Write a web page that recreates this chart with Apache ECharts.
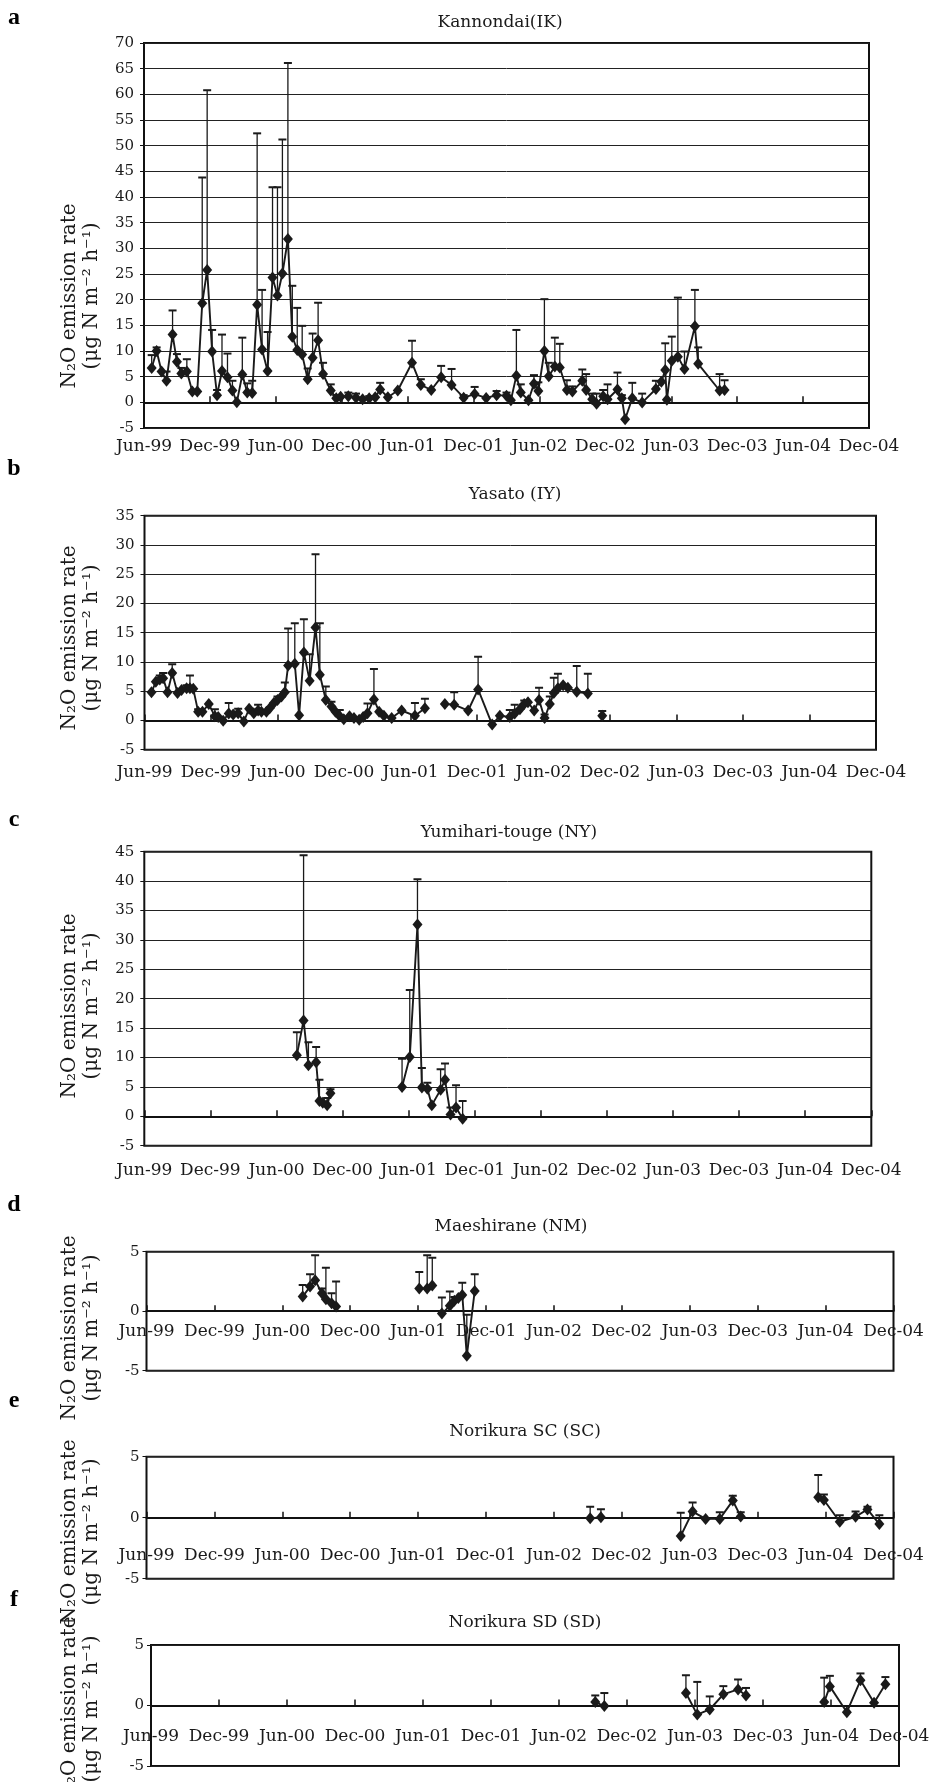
<!DOCTYPE html>
<html><head><meta charset="utf-8">
<script src="https://cdn.jsdelivr.net/npm/echarts@6/dist/echarts.min.js"></script>
<style>html,body{margin:0;padding:0;background:#fff}#c{width:933px;height:1782px}</style>
</head><body><div id="c"></div>
<script>
const FONT = '"DejaVu Serif", serif';
const INK = '#1a1a1a';
const tickLabels = ['Jun-99','Dec-99','Jun-00','Dec-00','Jun-01','Dec-01','Jun-02','Dec-02','Jun-03','Dec-03','Jun-04','Dec-04'];

// sampling time in months after 1 Jun 1999; flux = mean N2O emission; upper = mean + SD (error-bar top)
const ikMonths = [0.7,1.15,1.6,2.05,2.6,3.0,3.4,3.9,4.4,4.85, 5.3,5.75,6.2,6.65,7.1,7.6,8.05,8.45,8.95,9.4,
  9.85,10.3,10.75,11.25,11.7,12.15,12.6,13.1,13.5,13.95, 14.4,14.9,15.35,15.85,16.3,17.0,17.5,17.9,18.6,19.3,
  19.9,20.5,21.05,21.5,22.2,23.1,24.4,25.2,26.15,27.05, 28.0,29.1,30.1,31.15,32.1,33.0,33.4,33.9,34.3,35.0,
  35.5,35.9,36.45,36.85,37.4,37.85,38.5,39.0,39.9,40.25, 40.8,41.2,41.8,42.2,43.1,43.5,43.8,44.45,45.35,46.6,
  47.1,47.45,47.6,48.05,48.6,49.2,50.15,50.45,52.4,52.85];
const ikFlux = [6.7,10.0,6.0,4.2,13.2,7.9,5.6,6.0,2.1,2.1, 19.3,25.8,9.9,1.4,6.1,4.9,2.3,0.0,5.4,1.9,
  1.8,19.0,10.3,6.1,24.3,20.8,25.1,31.8,12.8,10.2, 9.3,4.5,8.7,12.1,5.5,2.3,0.8,1.1,1.2,0.9,
  0.6,0.8,1.0,2.5,1.0,2.3,7.7,3.4,2.4,4.9, 3.4,0.9,1.6,0.85,1.4,1.3,0.4,5.2,1.9,0.4,
  3.6,2.2,10.0,5.1,7.0,6.8,2.4,2.1,4.2,2.4, 0.6,-0.3,1.2,0.6,2.5,0.8,-3.3,0.8,-0.05,2.6,
  4.0,6.3,0.5,8.1,8.9,6.5,14.8,7.5,2.3,2.4];
const ikUpper = [9.2,10.7,null,6.0,17.9,9.4,6.7,8.4,null,null, 43.8,60.8,14.1,2.4,13.2,9.5,4.2,null,12.6,3.7,
  4.2,52.4,21.9,13.7,41.9,41.9,51.2,66.1,22.7,18.4, 14.9,6.6,13.4,19.4,7.7,3.5,1.4,null,1.9,1.7,
  null,1.2,null,3.8,null,null,12.0,4.5,null,7.1, 6.5,1.4,3.0,null,2.2,1.9,null,14.1,3.5,null,
  5.3,3.9,20.1,7.7,12.6,11.4,4.3,3.1,6.4,5.5, 1.7,1.7,2.4,3.5,5.8,1.4,null,3.8,1.7,4.2,
  null,11.5,null,12.8,20.4,9.9,21.9,10.7,5.5,4.3];
const ikBreaks = [];

const iyMonths = [0.63,1.02,1.38,1.68,2.08,2.5,2.98,3.34,3.8,4.1, 4.4,4.84,5.23,5.8,6.35,6.65,7.1,7.6,8.0,8.45,
  8.96,9.44,9.86,10.25,10.55,11.0,11.3,11.67,12.0,12.36, 12.66,12.96,13.56,13.95,14.38,14.9,15.43,15.82,16.36,16.87,
  17.23,17.62,17.98,18.5,18.9,19.37,19.73,20.12,20.7,21.17, 21.6,22.3,23.2,24.4,25.3,27.1,27.94,29.2,30.1,31.37,
  32.06,32.96,33.4,33.87,34.26,34.6,35.16,35.6,36.1,36.57, 36.93,37.3,37.77,38.2,39.0,40.0,41.3];
const iyFlux = [4.8,6.6,7.0,7.2,4.8,8.1,4.7,5.2,5.5,5.5, 5.4,1.5,1.5,2.8,0.7,0.6,-0.05,1.2,1.0,1.25,
  -0.2,2.0,1.25,1.7,1.5,1.5,2.1,3.0,3.5,4.1, 4.8,9.4,9.7,0.9,11.6,6.8,15.9,7.8,3.5,2.4,
  1.5,0.7,0.2,0.7,0.4,0.1,0.6,1.25,3.6,1.5, 0.8,0.4,1.7,0.8,2.1,2.8,2.7,1.7,5.3,-0.7,
  0.8,0.6,1.2,1.9,2.8,3.1,1.7,3.5,0.4,2.8, 4.7,5.5,6.0,5.6,4.9,4.6,0.8];
const iyUpper = [null,null,7.7,8.1,null,9.6,null,null,6.0,7.7, null,1.9,null,null,1.9,null,null,3.0,null,2.0,
  null,null,null,2.7,null,null,null,null,4.1,null, 6.5,15.7,16.6,null,17.3,11.3,28.4,16.6,5.8,3.2,
  null,1.8,null,null,null,null,null,2.9,8.8,null, null,null,null,3.0,3.7,null,4.8,null,10.9,null,
  null,1.8,2.7,null,3.4,null,null,5.6,1.0,4.1, 7.3,8.0,null,null,9.3,8.0,1.6];
const iyBreaks = [54, 75];

const nyMonths = [13.85,14.46,14.9,15.6,15.9,16.2,16.6,16.9, 23.4,24.1,24.8,25.2,25.7,26.1,26.9,27.3,27.8,28.3,28.9];
const nyFlux = [10.4,16.3,8.7,9.2,2.6,2.3,1.9,3.9, 5.0,10.1,32.6,4.9,4.7,1.9,4.5,6.2,0.3,1.5,-0.4];
const nyUpper = [14.3,44.4,12.6,11.8,6.2,null,3.1,4.6, 9.8,21.5,40.3,8.2,5.7,null,8.0,9.0,1.5,5.3,2.6];
const nyBreaks = [7];

const nmMonths = [13.8,14.45,14.9,15.5,15.85,16.35,16.75, 24.1,24.8,25.25, 26.1,26.8,27.2,27.55,27.9,28.3,29.0];
const nmFlux = [1.23,2.07,2.6,1.5,1.0,0.67,0.4, 1.9,1.9,2.15, -0.2,0.45,0.87,1.1,1.37,-3.75,1.7];
const nmUpper = [2.2,3.1,4.7,1.9,3.65,1.5,2.5, 3.3,4.7,4.5, 1.15,1.65,1.2,null,2.4,-0.3,3.1];
const nmBreaks = [6, 9];

const scMonths = [39.2,40.15, 47.2,48.25,49.4,50.65,51.8,52.5, 59.35,59.85,61.25,62.65,63.7,64.75];
const scFlux = [-0.05,0.03, -1.5,0.5,-0.1,-0.1,1.4,0.1, 1.67,1.45,-0.33,0.08,0.68,-0.52];
const scUpper = [0.9,0.7, 0.4,1.25,null,0.45,1.8,0.45, 3.5,1.9,0.2,0.5,0.9,0.2];
const scBreaks = [1, 7];

const sdMonths = [39.2,40.0, 47.2,48.2,49.3,50.5,51.8,52.5, 59.4,59.9,61.4,62.6,63.8,64.8];
const sdFlux = [0.28,-0.05, 1.03,-0.75,-0.33,0.92,1.33,0.83, 0.28,1.58,-0.55,2.08,0.22,1.75];
const sdUpper = [0.83,1.03, 2.5,1.95,0.75,1.6,2.15,1.45, 2.3,2.45,null,2.65,null,2.35];
const sdBreaks = [1, 7];

const panels = [
  {letter:'a', title:'Kannondai(IK)', months:ikMonths, flux:ikFlux, upper:ikUpper, breaks:ikBreaks, yMin:-5, yMax:70,
   box:{left:144, top:43, width:725, height:385}, labelsOnZero:false, labelMargin:10, yLabelMargin:10,
   titleX:500, titleY:23, letterY:18, nameY:296},
  {letter:'b', title:'Yasato (IY)', months:iyMonths, flux:iyFlux, upper:iyUpper, breaks:iyBreaks, yMin:-5, yMax:35,
   box:{left:144.5, top:515.7, width:731.5, height:234}, labelsOnZero:false, labelMargin:14, yLabelMargin:10,
   titleX:515, titleY:495, letterY:469, nameY:638},
  {letter:'c', title:'Yumihari-touge (NY)', months:nyMonths, flux:nyFlux, upper:nyUpper, breaks:nyBreaks, yMin:-5, yMax:45,
   box:{left:144.3, top:851.7, width:727, height:294}, labelsOnZero:false, labelMargin:16, yLabelMargin:10,
   titleX:509, titleY:833, letterY:820, nameY:1006},
  {letter:'d', title:'Maeshirane (NM)', months:nmMonths, flux:nmFlux, upper:nmUpper, breaks:nmBreaks, yMin:-5, yMax:5,
   box:{left:146.5, top:1251.7, width:747, height:119}, labelsOnZero:true, labelMargin:12, yLabelMargin:7,
   titleX:511, titleY:1227, letterY:1205, nameY:1328},
  {letter:'e', title:'Norikura SC (SC)', months:scMonths, flux:scFlux, upper:scUpper, breaks:scBreaks, yMin:-5, yMax:5,
   box:{left:146.5, top:1456.7, width:747, height:122}, labelsOnZero:true, labelMargin:29, yLabelMargin:7,
   titleX:525, titleY:1432, letterY:1401, nameY:1532},
  {letter:'f', title:'Norikura SD (SD)', months:sdMonths, flux:sdFlux, upper:sdUpper, breaks:sdBreaks, yMin:-5, yMax:5,
   box:{left:151, top:1645, width:748, height:121}, labelsOnZero:true, labelMargin:23, yLabelMargin:7,
   titleX:525, titleY:1623, letterY:1600, nameY:1709}
];

const grid = [], xAxis = [], yAxis = [], series = [], graphic = [];
panels.forEach((p, i) => {
  grid.push(Object.assign({show:true, borderColor:'#111', borderWidth:2, backgroundColor:'rgba(0,0,0,0)'}, p.box));
  // axis drawn on the zero line with inward ticks
  xAxis.push({type:'value', gridIndex:i, min:0, max:66, interval:6, position:'bottom',
    axisLine:{show:true, onZero:true, lineStyle:{color:'#111', width:2}},
    axisTick:{show:true, inside:true, length:6, lineStyle:{color:'#111', width:1.5}},
    axisLabel:{show:false}, splitLine:{show:false}});
  // label-only axis: at the plot bottom (a-c) or shifted up to the zero line (d-f)
  const zeroShift = p.labelsOnZero ? -p.box.height * (0 - p.yMin) / (p.yMax - p.yMin) : 0;
  xAxis.push({type:'value', gridIndex:i, min:0, max:66, interval:6, position:'bottom', offset:zeroShift,
    axisLine:{show:false, onZero:false}, axisTick:{show:false},
    axisLabel:{show:true, margin:p.labelMargin, fontFamily:FONT, fontSize:17, color:INK,
      formatter: v => tickLabels[Math.round(v/6)]},
    splitLine:{show:false}});
  yAxis.push({type:'value', gridIndex:i, min:p.yMin, max:p.yMax, interval:5,
    axisLine:{show:false, onZero:false},
    axisTick:{show:true, length:4, lineStyle:{color:'#111'}},
    axisLabel:{fontFamily:FONT, fontSize:15, color:INK, margin:p.yLabelMargin},
    splitLine:{show:true, lineStyle:{color:'#222', width:1}}});

  const errData = [];
  p.months.forEach((m, k) => { if (p.upper[k] != null) errData.push([m, p.flux[k], p.upper[k]]); });
  series.push({type:'custom', xAxisIndex:2*i, yAxisIndex:i, data:errData, z:2, silent:true, clip:true,
    renderItem: (params, api) => {
      const a = api.coord([api.value(0), api.value(1)]);
      const b = api.coord([api.value(0), api.value(2)]);
      return {type:'group', children:[
        {type:'line', shape:{x1:a[0], y1:a[1], x2:b[0], y2:b[1]}, style:{stroke:INK, lineWidth:1.3}},
        {type:'line', shape:{x1:b[0]-4, y1:b[1], x2:b[0]+4, y2:b[1]}, style:{stroke:INK, lineWidth:2}}
      ]};
    }});

  const lineData = [];
  p.months.forEach((m, k) => {
    lineData.push([m, p.flux[k]]);
    if (p.breaks.indexOf(k) >= 0) lineData.push([m, '-']);
  });
  series.push({type:'line', xAxisIndex:2*i, yAxisIndex:i, data:lineData, z:3, connectNulls:false,
    symbol:'diamond', symbolSize:[10,12], showSymbol:true, showAllSymbol:true,
    itemStyle:{color:INK, borderWidth:0}, lineStyle:{color:INK, width:1.9}, silent:true});

  graphic.push({type:'text', x:p.titleX, y:p.titleY, style:{text:p.title, font:'17px ' + FONT, fill:INK, align:'center', verticalAlign:'middle'}});
  graphic.push({type:'text', x:14, y:p.letterY, style:{text:p.letter, font:'bold 24px "Liberation Serif", serif', fill:'#000', align:'center', verticalAlign:'middle'}});
  graphic.push({type:'text', x:81, y:p.nameY, rotation:Math.PI/2,
    style:{text:'N\u2082O emission rate\n(\u03bcg N m\u207b\u00b2 h\u207b\u00b9)', font:'20px ' + FONT, fill:INK,
      align:'center', verticalAlign:'middle', lineHeight:22}});
});

const chart = echarts.init(document.getElementById('c'), null, {renderer:'canvas', width:933, height:1782});
chart.setOption({animation:false, backgroundColor:'#fff', grid, xAxis, yAxis, series, graphic});
</script>
</body></html>
